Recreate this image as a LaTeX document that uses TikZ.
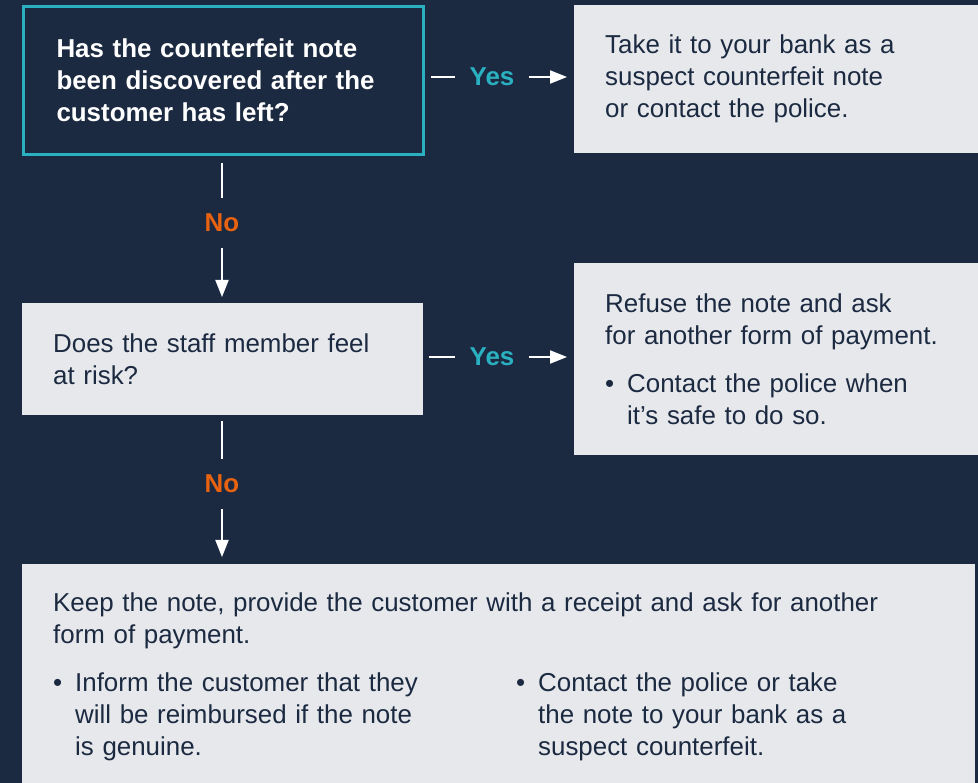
\documentclass[tikz,border=0pt]{standalone}
\usepackage{fontspec}
\setmainfont{Liberation Sans}
\usetikzlibrary{arrows.meta,calc}
\definecolor{navy}{HTML}{1B2A41}
\definecolor{panel}{HTML}{E7E8EC}
\definecolor{tealline}{HTML}{2AB0C1}
\definecolor{orangeno}{HTML}{E8620F}
\newcommand{\bpoint}[2]{\makebox[22pt][l]{\textbullet}\parbox[t]{#1}{#2}}
\tikzset{
	box/.style={
			anchor=north west, inner ysep=0pt, inner xsep=31pt, align=left,
			text=navy, fill=panel, font=\fontsize{25.9}{32}\selectfont
		},
	question/.style={box, fill=navy, draw=tealline, line width=3pt, inner xsep=33pt,
			text=white, font=\bfseries\fontsize{25.9}{32}\selectfont},
	yeslabel/.style={text=tealline, inner xsep=14pt, font=\bfseries\fontsize{25.9}{32}\selectfont},
	nolabel/.style={text=orangeno, inner ysep=16pt, font=\bfseries\fontsize{25.9}{32}\selectfont},
	link/.style={white, line width=2pt},
	flow/.style={link, -{Triangle[length=17pt,width=13pt]}}
}
\begin{document}
\begin{tikzpicture}[x=1pt, y=-1pt]

			% Background
			\fill[navy] (0,0) rectangle (978,783);
			\useasboundingbox (0,0) rectangle (978,783);

			% First question and its answer
			\node[question, text width=334pt, minimum height=148pt] (q1) at (22,5)
			{Has the counterfeit note\\been discovered after the\\customer has left?};
			\node[box, text width=360pt, minimum height=148pt] (a1) at (574,5)
			{Take it to your bank as a\\suspect counterfeit note\\or contact the police.};

			% Second question and its answer
			\node[box, text width=339pt, minimum height=112pt] (q2) at (22,303)
			{Does the staff member feel\\at risk?};
			\node[box, text width=360pt, minimum height=192pt] (a2) at (574,263)
			{Refuse the note and ask\\for another form of payment.\\[16pt]%
				\bpoint{310pt}{Contact the police when\\it’s safe to do so.}};

			% Final outcome
			\node[box, text width=891pt, minimum height=226pt] (a3) at (22,564)
			{Keep the note, provide the customer with a receipt and ask for another\\form of payment.\\[16pt]%
				\makebox[463pt][l]{\bpoint{380pt}{Inform the customer that they\\will be reimbursed if the note\\is genuine.}}%
				\bpoint{360pt}{Contact the police or take\\the note to your bank as a\\suspect counterfeit.}};

			% Yes / No labels
			\node[yeslabel] (yes1) at (492,77) {Yes};
			\node[yeslabel] (yes2) at (492,357) {Yes};
			\node[nolabel] (no1) at (222,223) {No};
			\node[nolabel] (no2) at (222,484) {No};

			% Connectors
			\draw[link, shorten <=6pt] (yes1 -| q1.east) -- (yes1.west);
			\draw[flow, shorten >=7pt] (yes1.east) -- (yes1 -| a1.west);
			\draw[link, shorten <=6pt] (yes2 -| q2.east) -- (yes2.west);
			\draw[flow, shorten >=7pt] (yes2.east) -- (yes2 -| a2.west);
			\draw[link, shorten <=7pt] (no1 |- q1.south) -- (no1.north);
			\draw[flow, shorten >=6pt] (no1.south) -- (no1 |- q2.north);
			\draw[link, shorten <=6pt] (no2 |- q2.south) -- (no2.north);
			\draw[flow, shorten >=7pt] (no2.south) -- (no2 |- a3.north);
		\end{tikzpicture}
\end{document}
